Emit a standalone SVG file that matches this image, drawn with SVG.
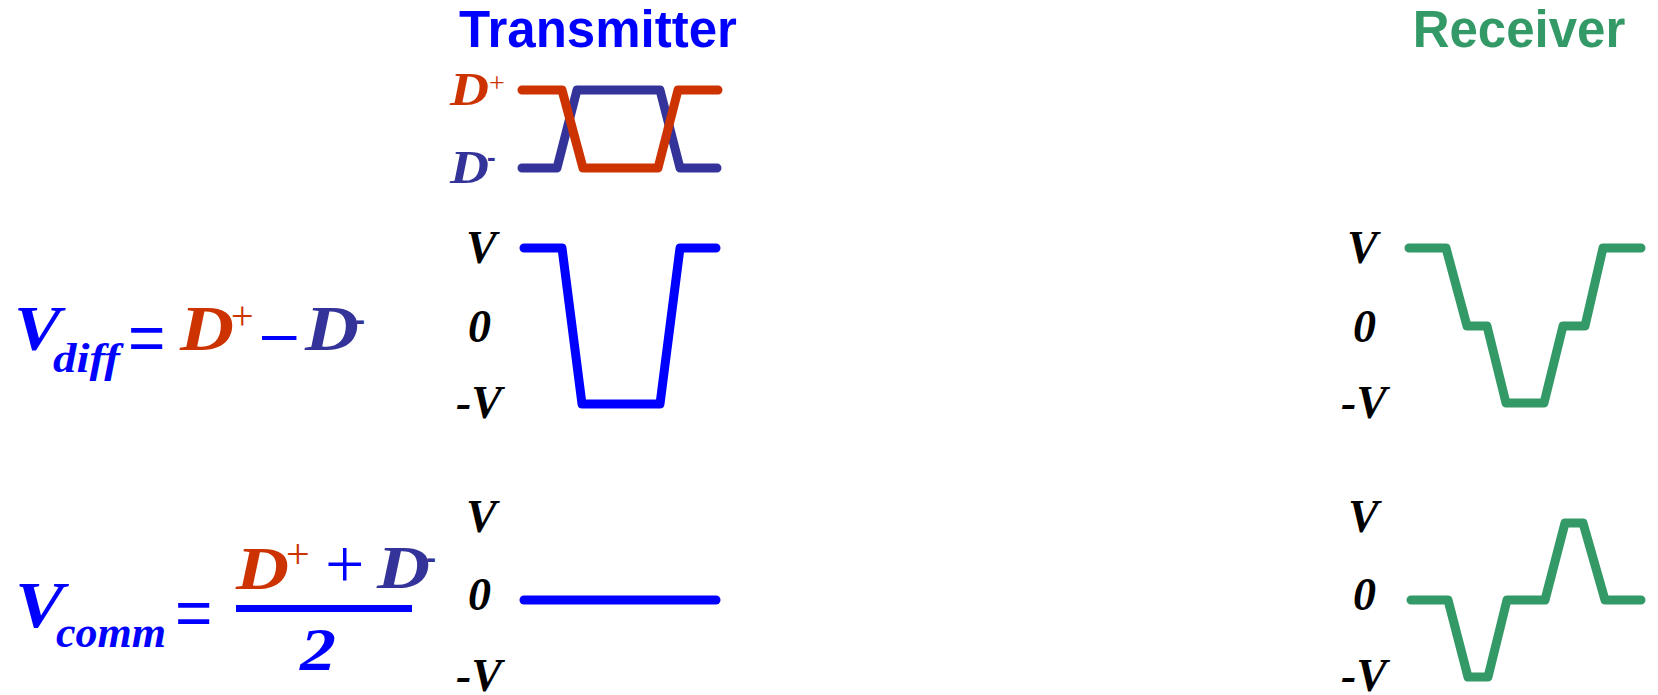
<svg xmlns="http://www.w3.org/2000/svg" width="1658" height="695" viewBox="0 0 1658 695">
<style>
.title{font-family:"Liberation Sans",Arial,sans-serif;font-weight:bold;font-size:51px;text-anchor:middle}
.m{font-family:"Liberation Serif","Times New Roman",serif;font-weight:bold;font-style:italic}
.op{font-family:"Liberation Serif","Times New Roman",serif}
.ops{font-family:"Liberation Sans",Arial,sans-serif}
.hy{font-family:"Liberation Sans",Arial,sans-serif;font-weight:bold}
.lbl{font-family:"Liberation Serif","Times New Roman",serif;font-weight:bold;font-style:italic;font-size:46px;fill:#000}
.w{fill:none;stroke-width:9;stroke-linecap:round;stroke-linejoin:round}
.blue{fill:#0000FF}
.red{fill:#CC3300}
.dblue{fill:#333399}
</style>
<rect width="1658" height="695" fill="#fff"/>
<g id="titles">
<text class="title" x="598" y="47" fill="#0000FF">Transmitter</text>
<text class="title" x="1519" y="47" fill="#339966">Receiver</text>
</g>
<g id="tx-lines">
<text class="m red" x="450" y="105" font-size="47" textLength="39" lengthAdjust="spacingAndGlyphs">D</text>
<text class="op red" x="489" y="92" font-size="28">+</text>
<text class="m dblue" x="450" y="183" font-size="47" textLength="39" lengthAdjust="spacingAndGlyphs">D</text>
<text class="hy dblue" x="487" y="166" font-size="26">-</text>
<path class="w" stroke="#333399" d="M522,168 L557,168 L577,90 L660,90 L680,168 L717,168"/>
<path class="w" stroke="#CC3300" d="M522,90 L562,90 L583,168 L658,168 L678,90 L718,90"/>
</g>
<g id="vdiff-formula">
<text class="m blue" x="14" y="350" font-size="64" textLength="47" lengthAdjust="spacingAndGlyphs">V</text>
<text class="m blue" x="53" y="372" font-size="42" textLength="67" lengthAdjust="spacingAndGlyphs">diff</text>
<text class="ops blue" x="128" y="360" font-size="64">=</text>
<text class="m red" x="180" y="350" font-size="64" textLength="54" lengthAdjust="spacingAndGlyphs">D</text>
<text class="op red" x="231" y="329" font-size="40">+</text>
<text class="ops blue" x="262" y="354" font-size="62">–</text>
<text class="m dblue" x="305" y="350" font-size="64" textLength="54" lengthAdjust="spacingAndGlyphs">D</text>
<text class="hy dblue" x="355" y="330" font-size="30">-</text>
</g>
<g id="vcomm-formula">
<text class="m blue" x="15" y="627" font-size="66" textLength="49" lengthAdjust="spacingAndGlyphs">V</text>
<text class="m blue" x="56" y="647" font-size="44">comm</text>
<text class="ops blue" x="175" y="635" font-size="64">=</text>
<rect x="236" y="605" width="176" height="7" fill="#0000FF"/>
<text class="m red" x="236" y="589" font-size="62" textLength="53" lengthAdjust="spacingAndGlyphs">D</text>
<text class="op red" x="286" y="568" font-size="42">+</text>
<text class="op blue" x="325" y="588" font-size="70">+</text>
<text class="m dblue" x="377" y="588" font-size="62" textLength="53" lengthAdjust="spacingAndGlyphs">D</text>
<text class="hy dblue" x="426" y="568" font-size="30">-</text>
<text class="m blue" x="300" y="670" font-size="62" textLength="36" lengthAdjust="spacingAndGlyphs">2</text>
</g>
<g id="tx-diff">
<text class="lbl" x="466" y="263">V</text>
<text class="lbl" x="468" y="342">0</text>
<text class="lbl" x="456" y="418">-V</text>
<path class="w" stroke="#0000FF" d="M524,248 L562,248 L582,404 L660,404 L680,248 L716,248"/>
</g>
<g id="tx-comm">
<text class="lbl" x="466" y="532">V</text>
<text class="lbl" x="468" y="610">0</text>
<text class="lbl" x="456" y="691">-V</text>
<path class="w" stroke="#0000FF" d="M524,600 L716,600"/>
</g>
<g id="rx-diff">
<text class="lbl" x="1347" y="263">V</text>
<text class="lbl" x="1353" y="342">0</text>
<text class="lbl" x="1341" y="418">-V</text>
<path class="w" stroke="#339966" d="M1409,248 L1446,248 L1467,326 L1487,326 L1506,403 L1544,403 L1563,326 L1585,326 L1603,248 L1641,248"/>
</g>
<g id="rx-comm">
<text class="lbl" x="1348" y="532">V</text>
<text class="lbl" x="1353" y="610">0</text>
<text class="lbl" x="1341" y="691">-V</text>
<path class="w" stroke="#339966" d="M1411,600 L1448,600 L1468,677 L1488,677 L1507,600 L1545,600 L1565,523 L1583,523 L1605,600 L1641,600"/>
</g>
</svg>
